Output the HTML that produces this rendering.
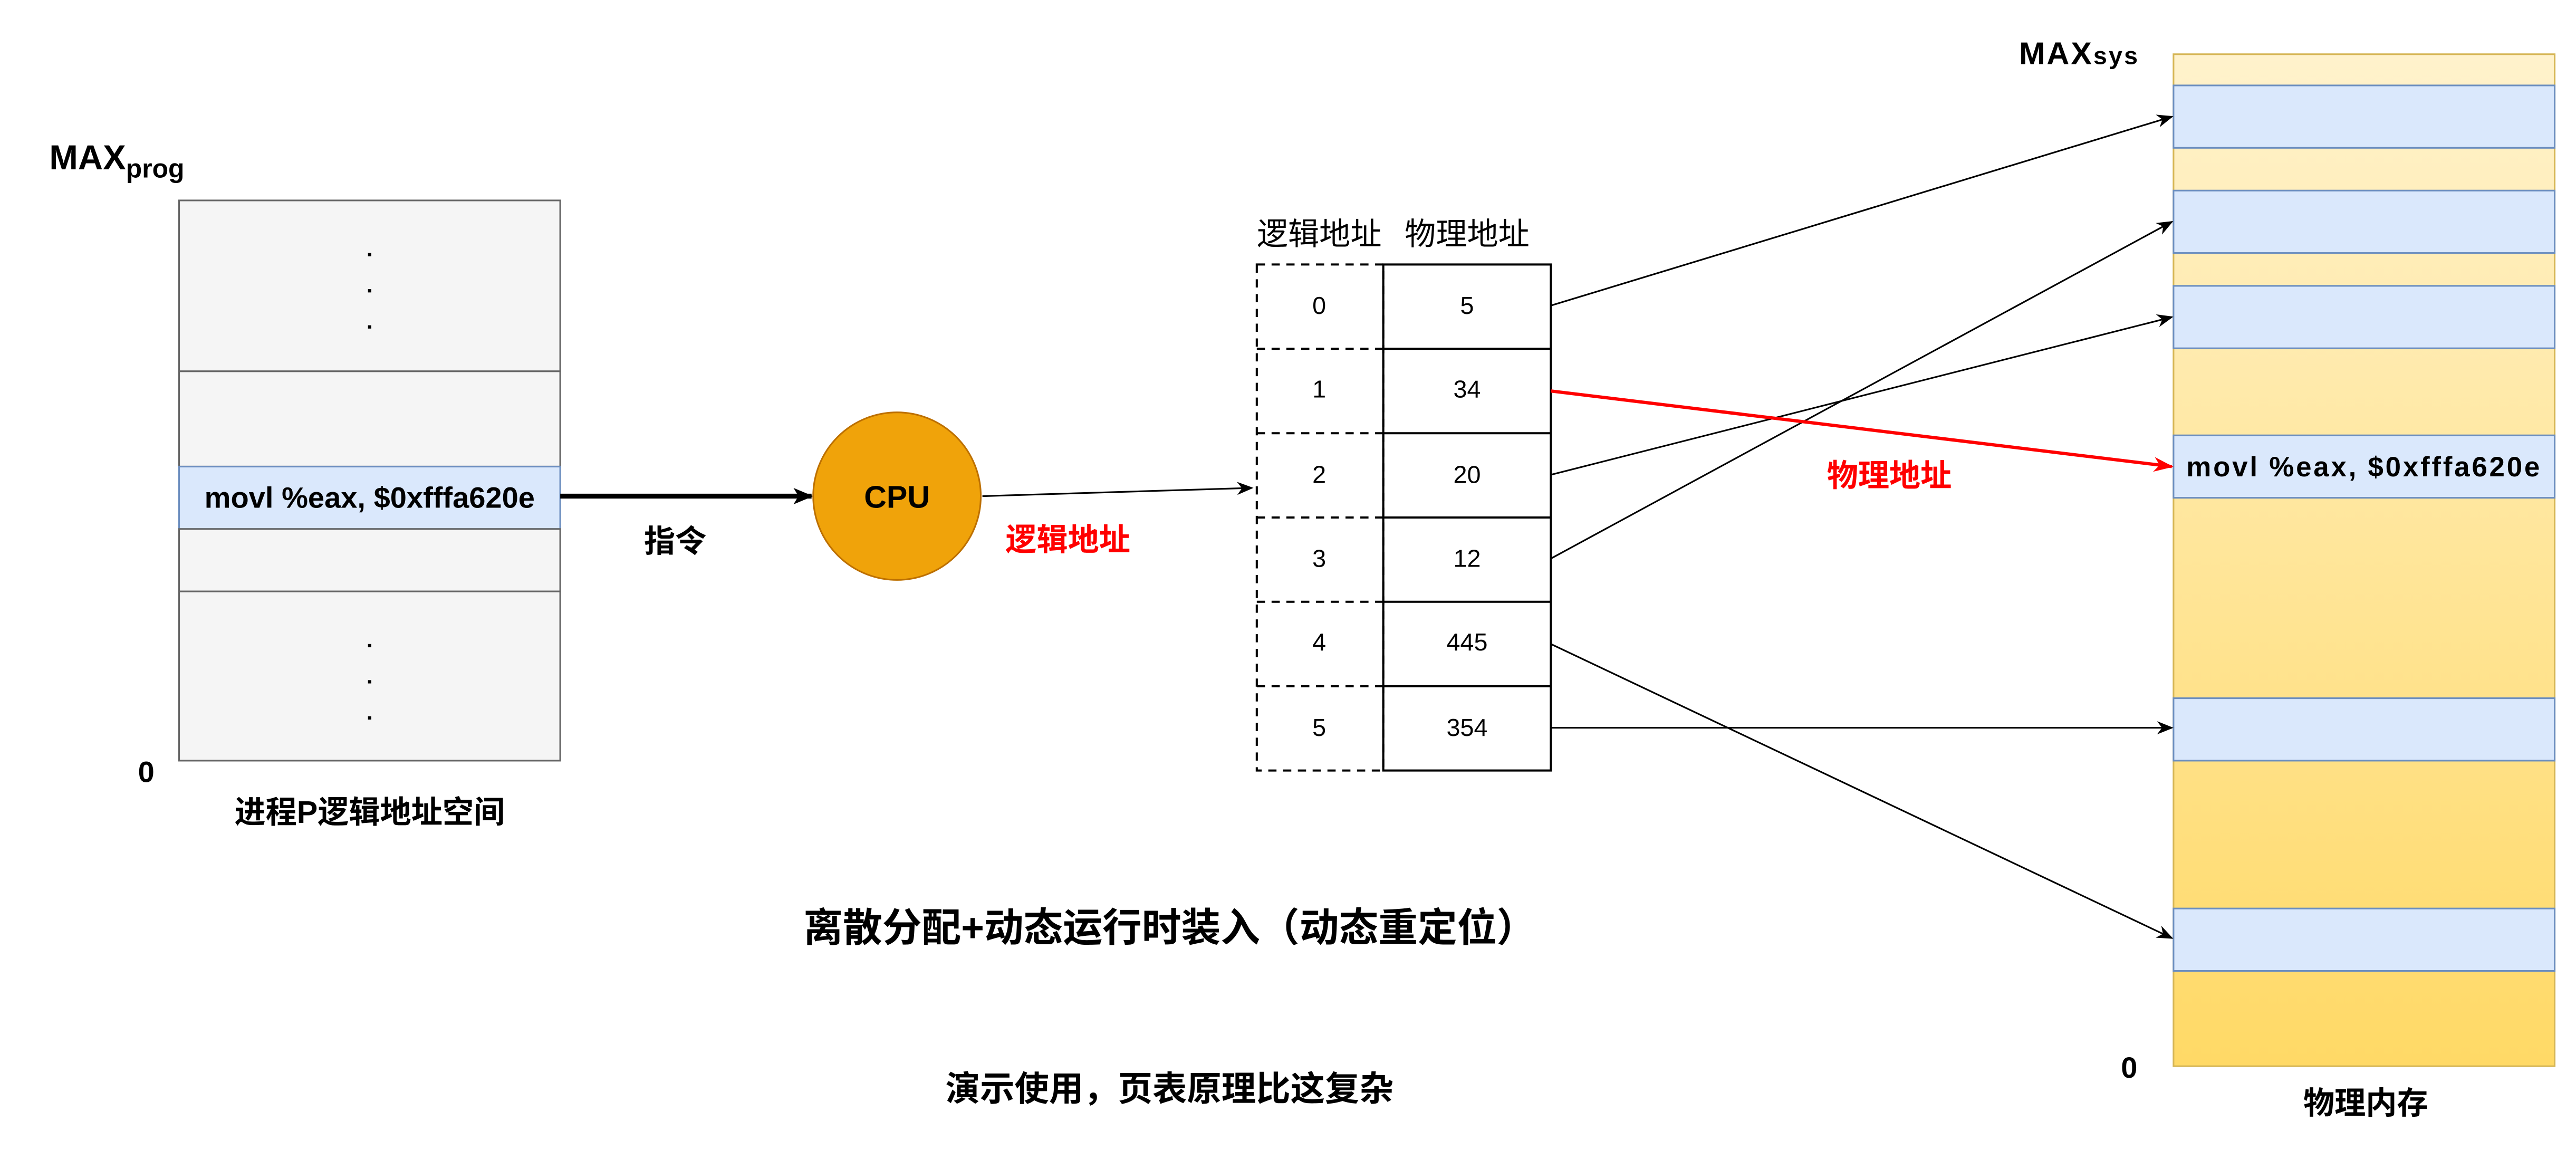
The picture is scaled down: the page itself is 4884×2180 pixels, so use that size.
<!DOCTYPE html>
<html><head><meta charset="utf-8"><style>
html,body{margin:0;padding:0;background:#fff;}
svg{display:block;}
text{font-family:"Liberation Sans","Noto Sans CJK SC",sans-serif;}
</style></head><body>
<svg width="4884" height="2180" viewBox="0 0 1568 700" preserveAspectRatio="none" xmlns="http://www.w3.org/2000/svg">
<defs>
<marker id="ab" markerWidth="10" markerHeight="8" refX="9" refY="4" orient="auto" markerUnits="userSpaceOnUse"><path d="M0,0 L10,4 L0,8 L3,4 Z" fill="#000"/></marker>
<marker id="ar" markerWidth="12" markerHeight="9" refX="11" refY="4.5" orient="auto" markerUnits="userSpaceOnUse"><path d="M0,0 L12,4.5 L0,9 L3.5,4.5 Z" fill="#ff0000"/></marker>
<marker id="ak" markerWidth="12" markerHeight="10" refX="11" refY="5" orient="auto" markerUnits="userSpaceOnUse"><path d="M0,0 L12,5 L0,10 L3,5 Z" fill="#000"/></marker>
<linearGradient id="g" x1="0" y1="0" x2="0" y2="1"><stop offset="0" stop-color="#fff2cc"/><stop offset="1" stop-color="#ffd966"/></linearGradient>
</defs>

<!-- left -->
<text x="30" y="103" font-size="21" font-weight="bold">MAX<tspan font-size="16" dy="5">prog</tspan></text>
<rect x="109" y="122" width="232" height="104" fill="#f5f5f5" stroke="#666"/>
<rect x="109" y="226" width="232" height="58" fill="#f5f5f5" stroke="#666"/>
<rect x="109" y="284" width="232" height="38" fill="#dae8fc" stroke="#6c8ebf"/>
<rect x="109" y="322" width="232" height="38" fill="#f5f5f5" stroke="#666"/>
<rect x="109" y="360" width="232" height="103" fill="#f5f5f5" stroke="#666"/>
<g fill="#000"><rect x="224" y="154" width="2" height="2"/><rect x="224" y="176" width="2" height="2"/><rect x="224" y="198" width="2" height="2"/>
<rect x="224" y="392" width="2" height="2"/><rect x="224" y="414" width="2" height="2"/><rect x="224" y="436" width="2" height="2"/></g>
<text x="225" y="309" font-size="18" font-weight="bold" text-anchor="middle">movl %eax, $0xfffa620e</text>
<text x="84" y="476" font-size="18" font-weight="bold">0</text>
<text x="225" y="501" font-size="19" font-weight="bold" text-anchor="middle">进程P逻辑地址空间</text>

<line x1="341" y1="302" x2="494" y2="302" stroke="#000" stroke-width="3" marker-end="url(#ak)"/>
<text x="411" y="336" font-size="19" font-weight="bold" text-anchor="middle">指令</text>

<ellipse cx="546" cy="302" rx="51" ry="51" fill="#f0a30a" stroke="#BD7000"/>
<text x="546" y="309" font-size="19" font-weight="bold" text-anchor="middle">CPU</text>
<line x1="598" y1="302" x2="762" y2="297" stroke="#000" stroke-width="1" marker-end="url(#ab)"/>
<text x="650" y="335" font-size="19" font-weight="bold" fill="#ff0000" text-anchor="middle">逻辑地址</text>

<!-- table -->
<text x="803" y="149" font-size="19" text-anchor="middle">逻辑地址</text>
<text x="893" y="149" font-size="19" text-anchor="middle">物理地址</text>
<g stroke="#000" stroke-width="1.3" fill="none">
<rect x="765" y="161" width="77" height="308" stroke-dasharray="5,4"/>
<line x1="765" y1="212.3" x2="842" y2="212.3" stroke-dasharray="5,4"/>
<line x1="765" y1="263.7" x2="842" y2="263.7" stroke-dasharray="5,4"/>
<line x1="765" y1="315" x2="842" y2="315" stroke-dasharray="5,4"/>
<line x1="765" y1="366.3" x2="842" y2="366.3" stroke-dasharray="5,4"/>
<line x1="765" y1="417.7" x2="842" y2="417.7" stroke-dasharray="5,4"/>
<rect x="842" y="161" width="102" height="308"/>
<line x1="842" y1="212.3" x2="944" y2="212.3"/>
<line x1="842" y1="263.7" x2="944" y2="263.7"/>
<line x1="842" y1="315" x2="944" y2="315"/>
<line x1="842" y1="366.3" x2="944" y2="366.3"/>
<line x1="842" y1="417.7" x2="944" y2="417.7"/>
</g>
<g font-size="15" text-anchor="middle">
<text x="803" y="191">0</text><text x="803" y="242">1</text><text x="803" y="294">2</text><text x="803" y="345">3</text><text x="803" y="396">4</text><text x="803" y="448">5</text>
<text x="893" y="191">5</text><text x="893" y="242">34</text><text x="893" y="294">20</text><text x="893" y="345">12</text><text x="893" y="396">445</text><text x="893" y="448">354</text>
</g>

<!-- memory -->
<text x="1229" y="39" font-size="19" font-weight="bold" letter-spacing="1">MAX<tspan font-size="15">sys</tspan></text>
<rect x="1323" y="33" width="232" height="616" fill="url(#g)" stroke="#d6b656"/>
<g fill="#dae8fc" stroke="#6c8ebf">
<rect x="1323" y="52" width="232" height="38"/>
<rect x="1323" y="116" width="232" height="38"/>
<rect x="1323" y="174" width="232" height="38"/>
<rect x="1323" y="265" width="232" height="38"/>
<rect x="1323" y="425" width="232" height="38"/>
<rect x="1323" y="553" width="232" height="38"/>
</g>
<text x="1439" y="290" font-size="17" font-weight="bold" text-anchor="middle" letter-spacing="1.2">movl %eax, $0xfffa620e</text>
<text x="1291" y="656" font-size="18" font-weight="bold">0</text>
<text x="1440" y="678" font-size="19" font-weight="bold" text-anchor="middle">物理内存</text>

<g stroke="#000" stroke-width="1">
<line x1="944" y1="186" x2="1322" y2="71" marker-end="url(#ab)"/>
<line x1="944" y1="340" x2="1322" y2="135" marker-end="url(#ab)"/>
<line x1="944" y1="289" x2="1322" y2="193" marker-end="url(#ab)"/>
<line x1="944" y1="443" x2="1322" y2="443" marker-end="url(#ab)"/>
<line x1="944" y1="392" x2="1322" y2="571" marker-end="url(#ab)"/>
</g>
<line x1="944" y1="238" x2="1322" y2="284" stroke="#ff0000" stroke-width="2" marker-end="url(#ar)"/>
<text x="1150" y="296" font-size="19" font-weight="bold" fill="#ff0000" text-anchor="middle">物理地址</text>

<text x="712" y="573" font-size="24" font-weight="bold" text-anchor="middle">离散分配+动态运行时装入（动态重定位）</text>
<text x="712" y="670" font-size="21" font-weight="bold" text-anchor="middle">演示使用，页表原理比这复杂</text>
</svg>
</body></html>
